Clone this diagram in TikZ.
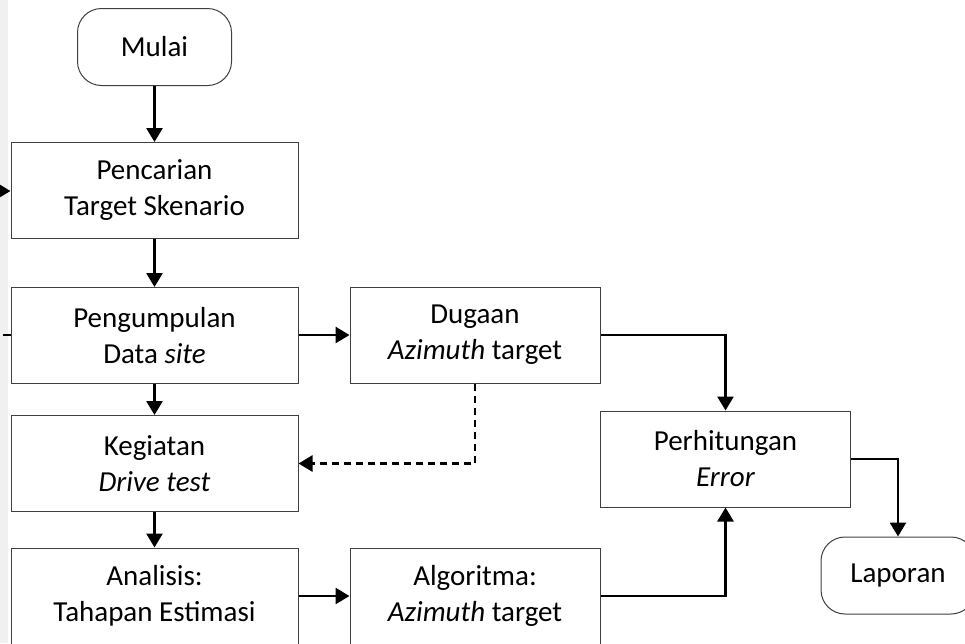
\documentclass[tikz,border=0pt]{standalone}
\usepackage{fontspec}
\setmainfont{Carlito}
\usetikzlibrary{arrows.meta}
\begin{document}
\begin{tikzpicture}[x=1pt,y=-1pt,
  box/.style={draw=black!75, line width=1pt, fill=white, inner sep=0pt,
    align=center, font=\fontsize{29}{36}\selectfont},
  twoline/.style={execute at begin node={\rule{0pt}{30pt}}},
  procbox/.style={box, twoline, minimum width=287pt, minimum height=96pt},
  sidebox/.style={box, twoline, minimum width=250pt, minimum height=96pt},
  termbox/.style={box, rounded corners=24pt, minimum width=154pt, minimum height=77pt},
  arr/.style={line width=2.7pt, -{Triangle[length=14pt,width=16pt]}},
  plain/.style={line width=2.7pt}
]
\useasboundingbox (0,0) rectangle (965,643);
\clip (0,0) rectangle (965,643);
\fill[white] (0,0) rectangle (965,643);
\fill[black!6] (0,0) rectangle (8,643);

% main column
\node[termbox] (mulai) at (154.5,47) {Mulai};
\node[procbox] (pencarian) at (154.5,190.5) {Pencarian\\Target Skenario};
\node[procbox] (pengumpulan) at (154.5,335.5) {Pengumpulan\\Data \emph{site}};
\node[procbox] (kegiatan) at (154.5,463.5) {Kegiatan\\\emph{Drive test}};
\node[procbox] (analisis) at (154.5,596) {Analisis:\\Tahapan Estimasi};

% side column
\node[sidebox] (dugaan) at (475,335) {Dugaan\\\emph{Azimuth} target};
\node[sidebox] (algoritma) at (475,596) {Algoritma:\\\emph{Azimuth} target};
\node[sidebox] (perhitungan) at (725.5,459) {Perhitungan\\\emph{Error}};
\node[termbox] (laporan) at (898,575.5) {Laporan};

% loose ends on the left
\coordinate (inL) at (-30,191);
\coordinate (outL) at (3,335);

% connectors
\draw[arr] (mulai) -- (pencarian);
\draw[arr] (pencarian) -- (pengumpulan);
\draw[arr] (pengumpulan) -- (kegiatan);
\draw[arr] (kegiatan) -- (analisis);
\draw[arr] (pengumpulan.east |- dugaan.west) -- (dugaan.west);
\draw[arr] (analisis.east |- algoritma.west) -- (algoritma.west);
\draw[arr] (dugaan.east) -| (perhitungan.north);
\draw[arr] (algoritma.east) -| (perhitungan.south);
\draw[arr] (perhitungan.east) -| (laporan.north);
\draw[arr, dash pattern=on 7pt off 5pt] (dugaan.south) |- (kegiatan.east);
\draw[arr] (inL) -- (pencarian.west |- inL);
\draw[plain] (pengumpulan.west |- outL) -- (outL);
\end{tikzpicture}
\end{document}
